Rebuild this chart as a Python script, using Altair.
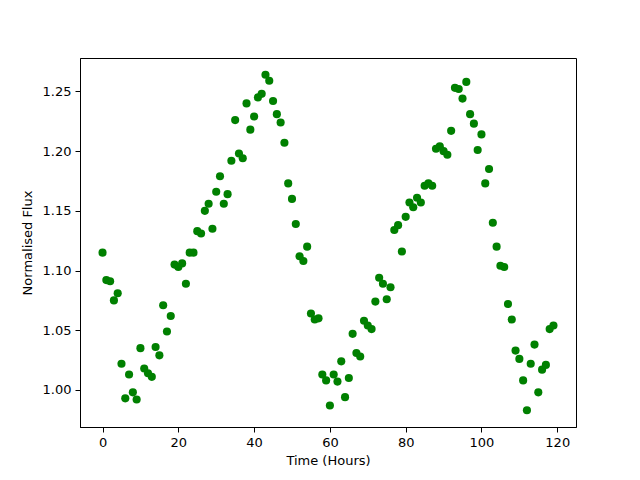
import altair as alt
import pandas as pd

hours = list(range(120))
flux = [
    1.115, 1.092, 1.091, 1.075, 1.081, 1.022, 0.993, 1.013, 0.998, 0.992,
    1.035, 1.018, 1.014, 1.011, 1.036, 1.029, 1.071, 1.049, 1.062, 1.105,
    1.103, 1.106, 1.089, 1.115, 1.115, 1.133, 1.131, 1.150, 1.156, 1.135,
    1.166, 1.179, 1.156, 1.164, 1.192, 1.226, 1.198, 1.194, 1.240, 1.218,
    1.229, 1.245, 1.248, 1.264, 1.259, 1.242, 1.231, 1.224, 1.207, 1.173,
    1.160, 1.139, 1.112, 1.108, 1.120, 1.064, 1.059, 1.060, 1.013, 1.008,
    0.987, 1.013, 1.007, 1.024, 0.994, 1.010, 1.047, 1.031, 1.028, 1.058,
    1.054, 1.051, 1.074, 1.094, 1.089, 1.076, 1.086, 1.134, 1.138, 1.116,
    1.145, 1.157, 1.153, 1.161, 1.157, 1.171, 1.173, 1.171, 1.202, 1.204,
    1.200, 1.197, 1.217, 1.253, 1.252, 1.244, 1.258, 1.231, 1.223, 1.201,
    1.214, 1.173, 1.185, 1.140, 1.120, 1.104, 1.103, 1.072, 1.059, 1.033,
    1.026, 1.008, 0.983, 1.022, 1.038, 0.998, 1.017, 1.021, 1.051, 1.054,
]
x_ticks = [0, 20, 40, 60, 80, 100, 120]
y_ticks = [1.00, 1.05, 1.10, 1.15, 1.20, 1.25]

df = pd.DataFrame({"hours": hours, "flux": flux})

chart = alt.Chart(df).mark_circle(size=66, color="#008000", opacity=1).encode(
    x=alt.X("hours:Q", scale=alt.Scale(domain=[-5.95, 124.95], nice=False, zero=False),
            axis=alt.Axis(values=x_ticks, title="Time (Hours)", format="d")),
    y=alt.Y("flux:Q", scale=alt.Scale(domain=[0.969, 1.278], nice=False, zero=False),
            axis=alt.Axis(values=y_ticks, title="Normalised Flux", format=".2f")),
).properties(
    width=496, height=369,
    autosize=alt.AutoSizeParams(type="none"),
    padding={"left": 72, "top": 50, "right": 56, "bottom": 45},
).configure_axis(
    grid=False, domainColor="black", tickColor="black", tickSize=5, tickWidth=1,
    labelFont="DejaVu Sans", labelFontSize=13, labelColor="black", labelPadding=4,
    titleFont="DejaVu Sans", titleFontSize=13, titleFontWeight="normal", titleColor="black",
    domainWidth=1,
).configure_axisX(titlePadding=5).configure_axisY(titlePadding=8).configure_view(
    stroke="black", strokeWidth=1
)

chart.save("out.html", embed_options={"renderer": "svg", "actions": False})
